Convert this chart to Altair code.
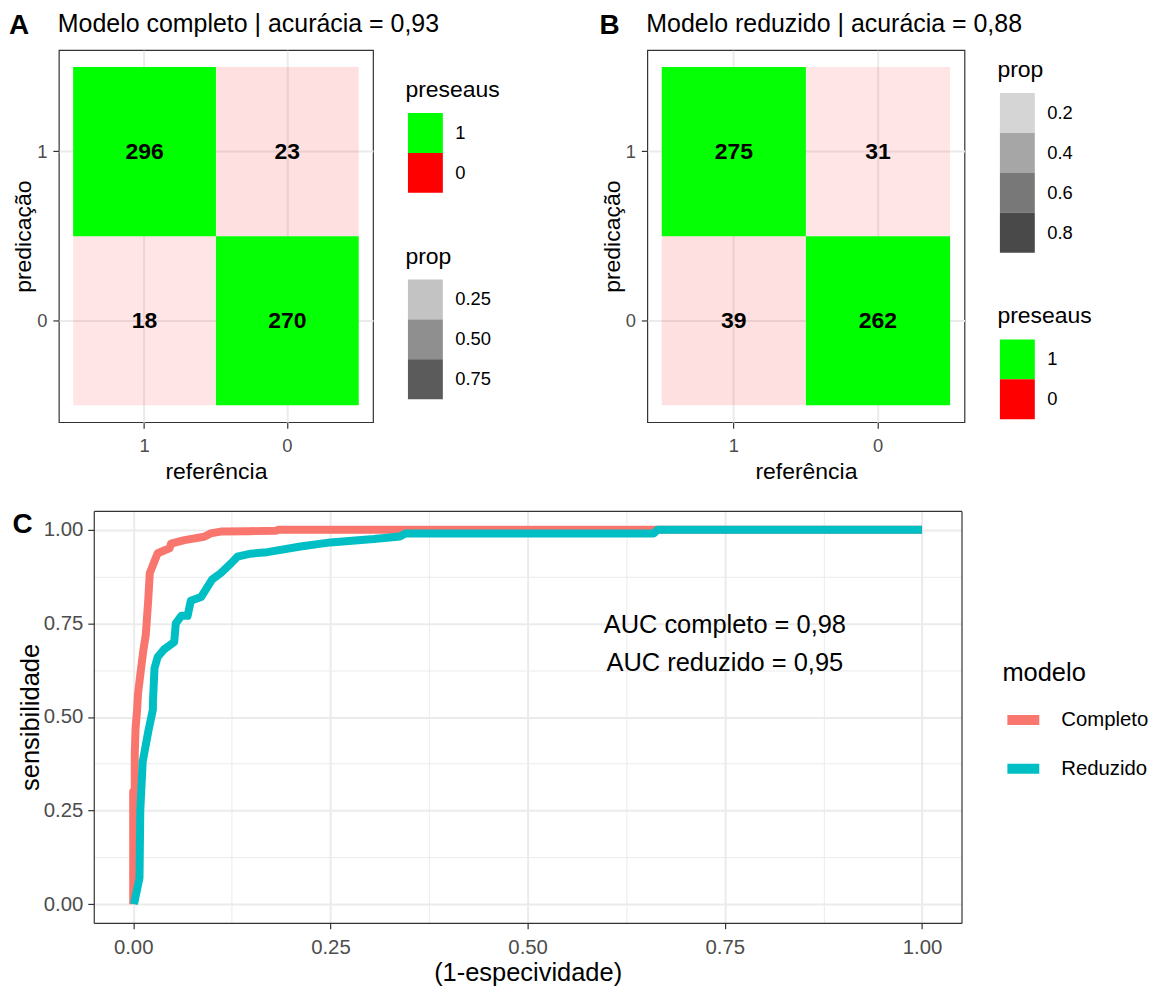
import altair as alt
import pandas as pd

FONT = "Liberation Sans"

# ---------------- confusion matrices ----------------
referencia = ["1", "0", "1", "0"]
predicao = ["1", "1", "0", "0"]
preseaus = ["1", "0", "0", "1"]
n_completo = [296, 23, 18, 270]
n_reduzido = [275, 31, 39, 262]

# ---------------- ROC curves ----------------
fpr_completo = [0.0, 0.0, 0.002, 0.002, 0.003, 0.005, 0.006, 0.010, 0.013, 0.016,
                0.019, 0.021, 0.025, 0.031, 0.040, 0.046, 0.048, 0.065, 0.090, 0.098,
                0.111, 0.147, 0.180, 0.185, 1.0]
tpr_completo = [0.0, 0.30, 0.30, 0.40, 0.47, 0.52, 0.56, 0.63, 0.68, 0.72,
                0.81, 0.884, 0.905, 0.937, 0.945, 0.950, 0.963, 0.972, 0.981, 0.990,
                0.995, 0.996, 0.997, 1.0, 1.0]

fpr_reduzido = [0.001, 0.008, 0.009, 0.012, 0.019, 0.025, 0.025, 0.027, 0.031, 0.039,
                0.052, 0.054, 0.061, 0.069, 0.073, 0.086, 0.092, 0.100, 0.111, 0.124,
                0.132, 0.149, 0.170, 0.212, 0.250, 0.305, 0.338, 0.345, 0.660, 0.665, 1.0]
tpr_reduzido = [0.0, 0.07, 0.25, 0.38, 0.46, 0.52, 0.54, 0.63, 0.66, 0.68,
                0.70, 0.75, 0.77, 0.77, 0.81, 0.82, 0.84, 0.867, 0.884, 0.91,
                0.928, 0.936, 0.94, 0.955, 0.966, 0.975, 0.982, 0.99, 0.99, 1.0, 1.0]

auc_texto = ["AUC completo = 0,98", "AUC reduzido = 0,95"]
auc_x = [0.75, 0.75]
auc_y = [0.745, 0.645]

modelos = ["Completo", "Reduzido"]
cores = ["#F8766D", "#00BFC4"]

RECT = "M-0.875,-1H0.875V1H-0.875Z"
FRAME = "#333333"


def matriz(counts, titulo, tag, w, h, tag_x, prop_vals, prop_fmt, pres_y, prop_y, leg_x):
    df = pd.DataFrame(dict(referencia=referencia, predicao=predicao,
                           preseaus=preseaus, n=counts))
    df["prop"] = df["n"] / df.groupby("referencia")["n"].transform("sum")
    base = alt.Chart(df)
    common = dict(bandPosition=0.5, grid=True, gridColor="#EBEBEB", gridWidth=2,
                  domain=False, tickSize=6, tickColor=FRAME, tickWidth=1.2,
                  labelFont=FONT, labelFontSize=18.4, labelColor="#4D4D4D",
                  titleFont=FONT, titleFontSize=23, titleFontWeight="normal",
                  titleColor="black", zindex=0)
    x = alt.X("referencia:N", sort=["1", "0"], title="referência",
              scale=alt.Scale(paddingInner=0, paddingOuter=0.1),
              axis=alt.Axis(labelAngle=0, labelPadding=8, titlePadding=6, **common))
    y = alt.Y("predicao:N", sort=["1", "0"], title="predicação",
              scale=alt.Scale(paddingInner=0, paddingOuter=0.1),
              axis=alt.Axis(labelPadding=6, titlePadding=1, **common))
    leg = dict(orient="none", direction="vertical", legendX=leg_x,
               symbolType=RECT, symbolSize=1600, symbolStrokeWidth=0, rowPadding=0,
               labelOffset=10, titlePadding=11, labelFont=FONT, labelFontSize=18.4,
               labelColor="black", titleFont=FONT, titleFontSize=23,
               titleFontWeight="normal", titleColor="black")
    tiles = base.mark_rect().encode(
        x=x, y=y,
        fill=alt.Fill("preseaus:N",
                      scale=alt.Scale(domain=["1", "0"], range=["#00FF00", "#FF0000"]),
                      legend=alt.Legend(title="preseaus", legendY=pres_y, **leg)),
        opacity=alt.Opacity("prop:Q",
                            scale=alt.Scale(range=[0.1, 1], zero=False, nice=False),
                            legend=alt.Legend(title="prop", legendY=prop_y,
                                              values=prop_vals, format=prop_fmt,
                                              symbolFillColor=FRAME, **leg)),
    )
    nums = base.mark_text(font=FONT, fontSize=23, fontWeight="bold", color="black").encode(
        x=x, y=y, text="n:Q")
    head = pd.DataFrame({"tag": [tag], "titulo": [titulo]})
    tagm = alt.Chart(head).mark_text(font=FONT, fontSize=28, fontWeight="bold",
                                     align="left", baseline="alphabetic",
                                     color="black").encode(
        x=alt.value(tag_x), y=alt.value(-16), text="tag:N")
    titm = alt.Chart(head).mark_text(font=FONT, fontSize=25, align="left",
                                     baseline="alphabetic", color="black").encode(
        x=alt.value(-1), y=alt.value(-18.4), text="titulo:N")
    return alt.layer(tiles, nums, tagm, titm).properties(width=w, height=h)


A = matriz(n_completo, "Modelo completo | acurácia = 0,93", "A", 315, 373, -50,
           [0.25, 0.5, 0.75], ".2f", 29, 196, 347.5)
B = matriz(n_reduzido, "Modelo reduzido | acurácia = 0,88", "B", 318, 373, -48,
           [0.2, 0.4, 0.6, 0.8], ".1f", 256, 9, 351)

# ---------------- ROC panel ----------------
rows = []
for m, fl, tl in [("Completo", fpr_completo, tpr_completo),
                  ("Reduzido", fpr_reduzido, tpr_reduzido)]:
    for i, (f, t) in enumerate(zip(fl, tl)):
        rows.append({"modelo": m, "idx": i, "fpr": f, "tpr": t})
roc_df = pd.DataFrame(rows)

major = "abs(datum.value*4 - round(datum.value*4)) < 0.000001"
vals = [i / 8 for i in range(9)]

CW, CH, SHIFT = 905, 413, 35   # C view starts under panel A; frame starts SHIFT px right


def roc_axis(title, pad_label, pad_title, offset=0):
    return alt.Axis(values=vals, title=title,
                    labelExpr=f"({major}) ? format(datum.value, '.2f') : ''",
                    labelOverlap=False, labelFlush=False,
                    grid=True, gridColor="#EBEBEB",
                    gridWidth={"condition": {"test": major, "value": 2}, "value": 1},
                    tickOpacity={"condition": {"test": major, "value": 1}, "value": 0},
                    domain=True, domainColor=FRAME, domainWidth=1.2, offset=offset,
                    tickSize=6, tickColor=FRAME, tickWidth=1.2,
                    labelFont=FONT, labelFontSize=20.4, labelColor="#4D4D4D",
                    labelPadding=pad_label, titleFont=FONT, titleFontSize=25.5,
                    titleFontWeight="normal", titleColor="black",
                    titlePadding=pad_title, zindex=0)


def frame_axis(orient):
    return alt.Axis(orient=orient, title="", labels=False, ticks=False, grid=False,
                    domain=True, domainColor=FRAME, domainWidth=1.2)


xscale = alt.Scale(domain=[-0.05, 1.05], nice=False, zero=False, range=[SHIFT, CW])
yscale = alt.Scale(domain=[-0.05, 1.05], nice=False, zero=False)

lines = alt.Chart(roc_df).mark_line(strokeWidth=8, strokeJoin="round").encode(
    x=alt.X("fpr:Q", scale=xscale, axis=roc_axis("(1-especividade)", 9, 2)),
    y=alt.Y("tpr:Q", scale=yscale, axis=roc_axis("sensibilidade", 5, 0, offset=-SHIFT)),
    color=alt.Color("modelo:N", scale=alt.Scale(domain=modelos, range=cores),
                    legend=alt.Legend(title="modelo", orient="none", direction="vertical",
                                      legendX=946, legendY=612,
                                      symbolType="stroke", symbolStrokeWidth=10,
                                      symbolSize=1024, rowPadding=8, labelOffset=17,
                                      titlePadding=13, labelFont=FONT,
                                      labelFontSize=20.4, labelColor="black",
                                      titleFont=FONT, titleFontSize=25.5,
                                      titleFontWeight="normal", titleColor="black")),
    order="idx:Q")

auc_df = pd.DataFrame({"t": auc_texto, "x": auc_x, "y": auc_y})
auc = alt.Chart(auc_df).mark_text(font=FONT, fontSize=25.5, align="center",
                                  baseline="middle", color="black").encode(
    x=alt.X("x:Q", scale=xscale, axis=frame_axis("top")),
    y=alt.Y("y:Q", scale=yscale, axis=frame_axis("right")),
    text="t:N")

tagc = alt.Chart(pd.DataFrame({"tag": ["C"]})).mark_text(
    font=FONT, fontSize=28, fontWeight="bold", align="left",
    baseline="alphabetic", color="black").encode(
    x=alt.value(-46.5), y=alt.value(21.7), text="tag:N")

C = alt.layer(lines, auc, tagc).resolve_axis(x="independent", y="independent").properties(
    width=CW, height=CH, view=alt.ViewBackground(stroke="transparent"))

top = alt.hconcat(A, B, spacing=97).resolve_scale(fill="independent", opacity="independent")
chart = alt.vconcat(top, C, spacing=26).properties(
    padding={"top": 10, "left": 8, "right": 5, "bottom": 5}
).configure(font=FONT).configure_view(stroke=FRAME, strokeWidth=1.2)

chart.save("out.html", embed_options={"renderer": "svg", "actions": False})
